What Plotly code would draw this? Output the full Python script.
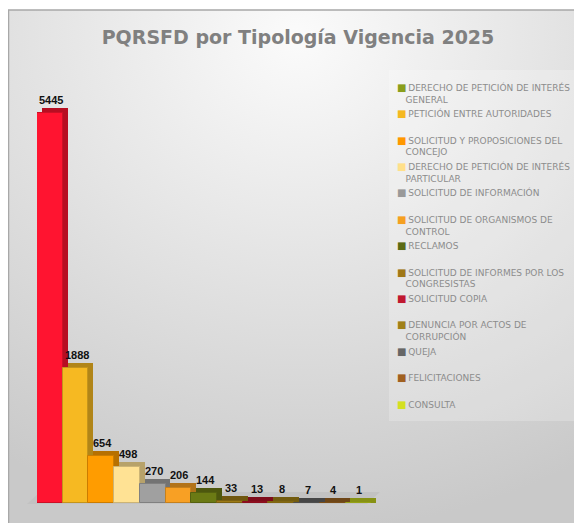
import base64
import textwrap
import plotly.graph_objects as go

# ---------------- data ----------------
categorias = [
    "DERECHO DE PETICIÓN DE INTERÉS GENERAL",
    "PETICIÓN ENTRE AUTORIDADES",
    "SOLICITUD Y PROPOSICIONES DEL CONCEJO",
    "DERECHO DE PETICIÓN DE INTERÉS PARTICULAR",
    "SOLICITUD DE INFORMACIÓN",
    "SOLICITUD DE ORGANISMOS DE CONTROL",
    "RECLAMOS",
    "SOLICITUD DE INFORMES POR LOS CONGRESISTAS",
    "SOLICITUD COPIA",
    "DENUNCIA POR ACTOS DE CORRUPCIÓN",
    "QUEJA",
    "FELICITACIONES",
    "CONSULTA",
]
valores = [5445, 1888, 654, 498, 270, 206, 144, 33, 13, 8, 7, 4, 1]
titulo = "PQRSFD por Tipología Vigencia 2025"

# ---------------- styles ----------------
colores_barra = ["#ff1430", "#f6b922", "#ff9c00", "#ffe294", "#a0a0a0", "#f8a024",
                 "#6b7a14", "#9c7a16", "#b01226", "#a08016", "#626262", "#9a6220", "#bccc1c"]
colores_leyenda = ["#8a9e1c", "#f5b820", "#ff9800", "#ffe08a", "#999999", "#f5a020",
                   "#5a6a14", "#a07818", "#c01830", "#a08018", "#666666", "#a06020", "#d4e020"]

OFF = 8                      # page offset of the plot div (body margin)
W, H = 582, 523
L, R, T, B = 29, 211, 67, 28
PW, PH = W - L - R, H - T - B
YMAX = PH * 5445 / 390.0
XMIN, XMAX = -0.5, 12.8
DX_UNITS = 0.19                      # horizontal depth offset (category units)
DY_UNITS = 5 / (PH / YMAX)           # vertical depth offset (~5 px)


def px_x(px):
    """page pixel x -> paper coordinate"""
    return (px - OFF - L) / PW


def px_y(py):
    """page pixel y -> paper coordinate"""
    return (H - B - (py - OFF)) / PH


def darker(hexc, f=0.72):
    hexc = hexc.lstrip("#")
    r, g, b = (int(hexc[i:i + 2], 16) for i in (0, 2, 4))
    return "#%02x%02x%02x" % (int(r * f), int(g * f), int(b * f))


fig = go.Figure()

# 3D-looking bars: a darker "depth" bar behind each front bar
for cat, val, col in zip(categorias, valores, colores_barra):
    fig.add_trace(go.Bar(
        x=[cat], y=[val + DY_UNITS], base=[0], offset=-0.5 + DX_UNITS, width=1,
        marker=dict(color=darker(col), line=dict(width=0)),
        showlegend=False, hoverinfo="skip"))
    fig.add_trace(go.Bar(
        x=[cat], y=[val], offset=-0.5, width=1,
        marker=dict(color=col, line=dict(width=1, color=darker(col, 0.8))),
        showlegend=False, name=cat))

# legend entries (symbol drawn as text glyph so it sits close to the label)
for cat, col in zip(categorias, colores_leyenda):
    lines = textwrap.wrap(cat, 30)
    if len(lines) == 1:
        lines.append("")
    label = ("<span style='color:%s;font-size:10px'>■</span>\u2009" % col) + lines[0] + \
        "<br>" + "\u00a0" * 3 + lines[1]
    fig.add_trace(go.Scatter(
        x=[None], y=[None], mode="markers", name=label,
        marker=dict(size=1, color="rgba(0,0,0,0)"), showlegend=True))

# value labels
annotations = []
for cat, val in zip(categorias, valores):
    annotations.append(dict(
        x=cat, y=val, xref="x", yref="y", text="<b>%d</b>" % val, showarrow=False,
        yanchor="bottom", xshift=1, yshift=5,
        font=dict(family="Liberation Sans, Arial, sans-serif", size=11, color="#111111")))

# background gradient (image)
svg = ("<svg xmlns='http://www.w3.org/2000/svg' width='576' height='513'>"
       "<defs><radialGradient id='g' cx='50%' cy='5%' r='95%' fx='50%' fy='5%'>"
       "<stop offset='0' stop-color='#fbfbfb'/><stop offset='1' stop-color='#c9c9c9'/>"
       "</radialGradient></defs><rect width='100%' height='100%' fill='url(#g)'/></svg>")
src = "data:image/svg+xml;base64," + base64.b64encode(svg.encode()).decode()

shapes = [
    # legend panel
    dict(type="rect", xref="paper", yref="paper", x0=px_x(389), x1=px_x(600),
         y0=px_y(421), y1=px_y(70), fillcolor="rgba(255,255,255,0.22)",
         line=dict(width=0), layer="below"),
    # floor
    dict(type="path", xref="paper", yref="paper",
         path="M %f,%f L %f,%f L %f,%f L %f,%f Z" % (
             px_x(27), px_y(504), px_x(367), px_y(504),
             px_x(380), px_y(492), px_x(40), px_y(492)),
         fillcolor="#c2c2c2", line=dict(width=0), layer="below"),
    # frame
    dict(type="rect", xref="paper", yref="paper", x0=px_x(8.5), x1=px_x(620),
         y0=px_y(560), y1=px_y(10), fillcolor="rgba(0,0,0,0)",
         line=dict(width=1.5, color="#a8a8a8"), layer="below"),
]

fig.update_layout(
    width=W, height=H,
    margin=dict(l=L, r=R, t=T, b=B, autoexpand=False),
    paper_bgcolor="white", plot_bgcolor="rgba(0,0,0,0)",
    barmode="overlay", bargap=0,
    title=dict(text="<b>%s</b>" % titulo, x=(298 - OFF) / W, xanchor="center",
               y=1 - 29 / H, yanchor="middle",
               font=dict(family="DejaVu Sans, sans-serif", size=19, color="#808080")),
    xaxis=dict(range=[XMIN, XMAX], showticklabels=False, showgrid=False,
               zeroline=False, showline=False, ticks=""),
    yaxis=dict(range=[0, YMAX], showticklabels=False, showgrid=False,
               zeroline=False, showline=False, ticks=""),
    legend=dict(x=px_x(357), y=1, xanchor="left", yanchor="top",
                bgcolor="rgba(0,0,0,0)", borderwidth=0,
                font=dict(family="DejaVu Sans, sans-serif", size=9, color="#8c8c8c"),
                itemclick=False, itemdoubleclick=False, tracegroupgap=0),
    annotations=annotations,
    shapes=shapes,
    images=[dict(source=src, xref="paper", yref="paper", x=px_x(6), y=px_y(10),
                 sizex=(590 - 6) / PW, sizey=(531 - 10) / PH, sizing="stretch",
                 xanchor="left", yanchor="top", layer="below")],
    showlegend=True,
)

fig.write_html("out.html")
